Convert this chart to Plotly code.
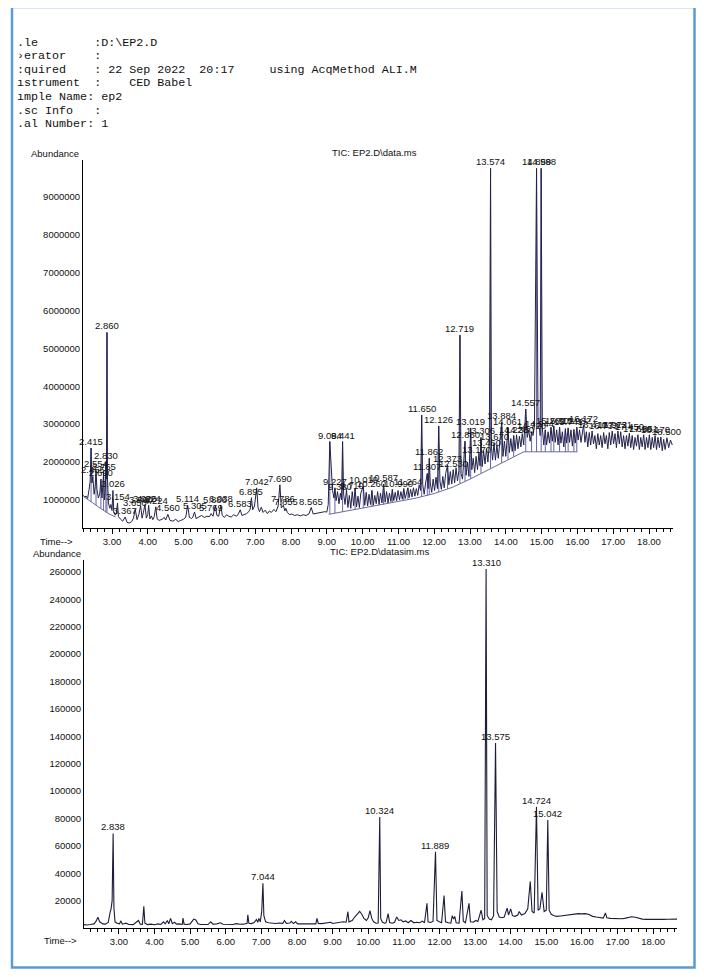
import plotly.graph_objects as go

# page body keeps its default 8px margin, so the figure is 16px smaller than the window
W, H = 688, 961
OFF = 8

# ---------------- header text (scan is cropped on the left) ----------------
header_lines = [
    ".le        :D:\\EP2.D",
    "›erator    :",
    ":quired    : 22 Sep 2022  20:17     using AcqMethod ALI.M",
    "ıstrument  :    CED Babel",
    "ımple Name: ep2",
    ".sc Info   :",
    ".al Number: 1",
]

# ---------------- TIC: EP2.D\data.ms (abundance in millions) ----------------
top_time = [
    2.190, 2.240, 2.280, 2.320, 2.360, 2.390, 2.415, 2.440, 2.465, 2.500,
    2.530, 2.554, 2.580, 2.620, 2.660, 2.690, 2.720, 2.745, 2.765, 2.790,
    2.810, 2.830, 2.845, 2.860, 2.875, 2.900, 2.940, 2.970, 3.000, 3.026,
    3.050, 3.090, 3.120, 3.154, 3.180, 3.230, 3.300, 3.367, 3.420, 3.480,
    3.550, 3.600, 3.650, 3.700, 3.750, 3.800, 3.840, 3.880, 3.920, 3.960,
    4.000, 4.024, 4.060, 4.100, 4.140, 4.180, 4.224, 4.260, 4.320, 4.400,
    4.460, 4.500, 4.560, 4.620, 4.700, 4.780, 4.850, 4.920, 5.000, 5.060,
    5.114, 5.160, 5.220, 5.260, 5.305, 5.350, 5.420, 5.500, 5.580, 5.650,
    5.720, 5.769, 5.820, 5.886, 5.930, 5.980, 6.038, 6.080, 6.140, 6.200,
    6.260, 6.330, 6.400, 6.480, 6.530, 6.583, 6.630, 6.700, 6.760, 6.820,
    6.860, 6.895, 6.930, 6.980, 7.042, 7.080, 7.120, 7.170, 7.220, 7.280,
    7.340, 7.400, 7.450, 7.520, 7.580, 7.640, 7.690, 7.730, 7.786, 7.830,
    7.855, 7.900, 7.960, 8.020, 8.100, 8.180, 8.260, 8.340, 8.420, 8.500,
    8.565, 8.620, 8.700, 8.780, 8.860, 8.940, 9.000, 9.040, 9.084, 9.120,
    9.160, 9.200, 9.227, 9.260, 9.300, 9.340, 9.380, 9.410, 9.441, 9.470,
    9.510, 9.550, 9.590, 9.630, 9.670, 9.710, 9.750, 9.790, 9.830, 9.870,
    9.910, 9.950, 10.019, 10.060, 10.100, 10.140, 10.180, 10.220, 10.260, 10.300,
    10.340, 10.380, 10.420, 10.460, 10.500, 10.540, 10.587, 10.630, 10.670, 10.710,
    10.750, 10.790, 10.830, 10.870, 10.910, 10.950, 10.990, 11.030, 11.070, 11.110,
    11.150, 11.190, 11.230, 11.264, 11.300, 11.340, 11.380, 11.420, 11.460, 11.500,
    11.540, 11.580, 11.620, 11.650, 11.680, 11.720, 11.760, 11.807, 11.830, 11.862,
    11.890, 11.930, 11.970, 12.010, 12.050, 12.090, 12.126, 12.160, 12.200, 12.240,
    12.280, 12.320, 12.373, 12.410, 12.450, 12.490, 12.530, 12.570, 12.610, 12.650,
    12.690, 12.719, 12.750, 12.790, 12.820, 12.860, 12.890, 12.930, 12.970, 13.019,
    13.050, 13.090, 13.130, 13.170, 13.210, 13.250, 13.280, 13.306, 13.340, 13.380,
    13.420, 13.460, 13.500, 13.540, 13.574, 13.600, 13.630, 13.670, 13.710, 13.750,
    13.790, 13.830, 13.884, 13.920, 13.960, 14.000, 14.061, 14.100, 14.140, 14.180,
    14.220, 14.260, 14.300, 14.340, 14.380, 14.420, 14.460, 14.500, 14.557, 14.600,
    14.640, 14.680, 14.720, 14.760, 14.800, 14.859, 14.900, 14.944, 14.960, 14.988,
    15.020, 15.060, 15.102, 15.140, 15.180, 15.220, 15.262, 15.300, 15.341, 15.380,
    15.420, 15.460, 15.502, 15.540, 15.580, 15.620, 15.664, 15.700, 15.741, 15.780,
    15.820, 15.860, 15.902, 15.940, 15.982, 16.020, 16.060, 16.100, 16.140, 16.172,
    16.210, 16.250, 16.290, 16.331, 16.370, 16.410, 16.450, 16.490, 16.530, 16.570,
    16.610, 16.650, 16.690, 16.733, 16.770, 16.810, 16.850, 16.890, 16.930, 16.972,
    17.010, 17.050, 17.090, 17.131, 17.170, 17.210, 17.250, 17.290, 17.330, 17.370,
    17.410, 17.450, 17.490, 17.530, 17.570, 17.610, 17.650, 17.690, 17.730, 17.770,
    17.810, 17.851, 17.890, 17.930, 17.970, 18.010, 18.050, 18.090, 18.130, 18.170,
    18.210, 18.250, 18.290, 18.331, 18.370, 18.410, 18.450, 18.500, 18.550, 18.600,
    18.650,
]
top_abund_m = [
    1.12, 1.08, 1.10, 1.04, 1.28, 1.50, 2.37, 1.45, 1.62, 1.15,
    1.35, 1.78, 1.28, 1.05, 1.18, 1.55, 1.05, 1.35, 1.72, 1.00,
    1.20, 2.00, 1.55, 5.42, 1.55, 0.92, 0.78, 0.88, 0.72, 1.25,
    0.68, 0.60, 0.64, 0.92, 0.56, 0.50, 0.44, 0.55, 0.41, 0.39,
    0.43, 0.52, 0.75, 0.48, 0.62, 0.85, 0.52, 0.68, 0.88, 0.52,
    0.62, 0.86, 0.50, 0.58, 0.48, 0.56, 0.82, 0.50, 0.46, 0.49,
    0.54, 0.47, 0.62, 0.46, 0.44, 0.49, 0.43, 0.46, 0.49, 0.55,
    0.86, 0.54, 0.51, 0.55, 0.68, 0.51, 0.55, 0.59, 0.54, 0.57,
    0.56, 0.64, 0.57, 0.85, 0.59, 0.57, 0.86, 0.59, 0.54, 0.61,
    0.57, 0.55, 0.61, 0.57, 0.63, 0.74, 0.59, 0.61, 0.64, 0.69,
    0.76, 1.06, 0.74, 0.84, 1.32, 0.79, 0.69, 0.81, 0.67, 0.73,
    0.64, 0.71, 0.67, 0.75, 0.69, 0.84, 1.40, 0.79, 0.86, 0.71,
    0.78, 0.67, 0.61, 0.63, 0.59, 0.61, 0.58, 0.61, 0.59, 0.63,
    0.80, 0.63, 0.65, 0.66, 0.67, 0.69, 0.68, 0.88, 2.54, 1.75,
    1.25, 1.05, 1.32, 0.98, 1.22, 0.90, 1.18, 1.00, 2.54, 1.15,
    0.88, 1.28, 0.80, 1.12, 0.78, 1.22, 0.85, 1.30, 0.82, 1.10,
    0.80, 1.18, 1.36, 0.86, 1.20, 0.84, 1.15, 0.88, 1.25, 0.86,
    1.12, 0.90, 1.22, 0.88, 1.18, 0.92, 1.42, 0.94, 1.22, 0.92,
    1.18, 0.96, 1.28, 0.98, 1.20, 0.98, 1.25, 1.00, 1.22, 1.02,
    1.30, 1.04, 1.25, 1.32, 1.06, 1.28, 1.08, 1.32, 1.10, 1.30,
    1.12, 1.40, 1.25, 3.24, 1.40, 1.15, 1.45, 1.70, 1.30, 2.10,
    1.45, 1.20, 1.55, 1.25, 1.60, 1.30, 2.95, 1.50, 1.28, 1.62,
    1.32, 1.70, 1.92, 1.40, 1.75, 1.42, 1.80, 1.45, 1.85, 1.50,
    1.78, 5.35, 1.70, 1.55, 1.95, 2.55, 1.65, 2.00, 1.62, 2.90,
    1.80, 2.10, 1.72, 2.15, 1.80, 2.25, 1.90, 2.65, 1.88, 2.30,
    1.95, 2.35, 2.00, 2.50, 9.75, 2.40, 2.05, 2.50, 2.05, 2.45,
    2.10, 2.55, 3.05, 2.15, 2.55, 2.15, 2.90, 2.25, 2.62, 2.28,
    2.70, 2.30, 2.72, 2.35, 2.68, 2.40, 2.75, 2.45, 3.40, 2.65,
    2.85, 2.55, 2.80, 2.70, 2.95, 9.75, 2.95, 2.85, 2.70, 9.75,
    2.90, 2.45, 2.85, 2.45, 2.80, 2.50, 2.92, 2.55, 2.95, 2.52,
    2.85, 2.45, 2.92, 2.50, 2.80, 2.40, 2.88, 2.50, 2.90, 2.52,
    2.85, 2.42, 2.86, 2.50, 2.92, 2.58, 2.85, 2.52, 2.80, 2.98,
    2.52, 2.80, 2.40, 2.78, 2.45, 2.82, 2.48, 2.70, 2.35, 2.75,
    2.45, 2.70, 2.38, 2.78, 2.48, 2.70, 2.35, 2.78, 2.45, 2.82,
    2.48, 2.75, 2.38, 2.82, 2.48, 2.80, 2.40, 2.70, 2.35, 2.70,
    2.42, 2.76, 2.38, 2.70, 2.33, 2.65, 2.42, 2.72, 2.33, 2.65,
    2.40, 2.72, 2.33, 2.65, 2.38, 2.72, 2.33, 2.65, 2.38, 2.70,
    2.33, 2.65, 2.38, 2.66, 2.30, 2.60, 2.33, 2.64, 2.38, 2.58,
    2.45,
]

# integration baselines drawn by the data system (millions)
base_early_time = [2.22, 2.88, 3.10]
base_early_abund_m = [1.08, 0.65, 0.55]
base_late_time = [9.05, 9.5, 10.0, 10.5, 11.0, 11.5, 12.0, 12.5, 13.0, 13.5, 14.0, 14.5, 16.0]
base_late_abund_m = [0.62, 0.70, 0.78, 0.87, 0.96, 1.05, 1.17, 1.33, 1.55, 1.80, 2.03, 2.27, 2.27]

# peak drop lines: time and baseline value (millions)
drop_time = [2.415, 2.554, 2.690, 2.765, 2.830, 2.860, 9.084, 9.227, 9.441, 9.790,
             10.019, 10.260, 10.587, 10.830, 11.150, 11.264, 11.650, 11.807, 11.862,
             12.126, 12.373, 12.719, 12.860, 13.019, 13.306, 13.574, 13.884, 14.061,
             14.220, 14.557, 14.720, 14.859, 14.988, 15.102, 15.262, 15.341, 15.502,
             15.664, 15.741, 15.902, 15.982]
drop_base_m = [0.95, 0.86, 0.77, 0.72, 0.68, 0.66, 0.63, 0.65, 0.69, 0.75,
               0.78, 0.83, 0.88, 0.93, 0.99, 1.01, 1.08, 1.11, 1.13,
               1.21, 1.29, 1.42, 1.49, 1.56, 1.70, 1.83, 1.98, 2.06,
               2.14, 2.27, 2.27, 2.27, 2.27, 2.27, 2.27, 2.27, 2.27,
               2.27, 2.27, 2.27, 2.27]

top_peak_labels = [
    2.415, 2.465, 2.554, 2.690, 2.765, 2.830, 2.860, 3.026, 3.154, 3.367,
    3.650, 3.800, 3.920, 4.024, 4.224, 4.560, 5.114, 5.305, 5.769, 5.886,
    6.038, 6.583, 6.895, 7.042, 7.690, 7.786, 7.855, 8.565, 9.084, 9.227,
    9.380, 9.441, 9.710, 10.019, 10.260, 10.587, 10.990, 11.264, 11.650, 11.807,
    11.862, 12.126, 12.373, 12.530, 12.719, 12.860, 13.019, 13.170, 13.306, 13.460,
    13.574, 13.670, 13.884, 14.061, 14.220, 14.380, 14.557, 14.720, 14.859, 14.944,
    14.988, 15.262, 15.502, 15.741, 15.982, 16.172, 16.410, 16.733, 16.972, 17.131,
    17.450, 17.690, 17.851, 18.170, 18.500,
]

# ---------------- TIC: EP2.D\datasim.ms ----------------
sim_time = [
    2.02, 2.10, 2.20, 2.30, 2.36, 2.41, 2.46, 2.55, 2.62, 2.70,
    2.75, 2.78, 2.81, 2.838, 2.86, 2.89, 2.95, 3.02, 3.05, 3.10,
    3.20, 3.28, 3.40, 3.50, 3.55, 3.60, 3.66, 3.70, 3.73, 3.80,
    3.90, 4.00, 4.10, 4.18, 4.25, 4.30, 4.36, 4.40, 4.45, 4.50,
    4.56, 4.62, 4.70, 4.78, 4.80, 4.83, 4.92, 5.00, 5.06, 5.10,
    5.16, 5.22, 5.30, 5.40, 5.50, 5.58, 5.64, 5.75, 5.85, 5.92,
    6.00, 6.10, 6.20, 6.30, 6.40, 6.50, 6.60, 6.62, 6.65, 6.72,
    6.80, 6.86, 6.90, 6.93, 6.97, 7.01, 7.044, 7.07, 7.12, 7.20,
    7.30, 7.40, 7.50, 7.60, 7.65, 7.70, 7.80, 7.84, 7.90, 7.96,
    8.02, 8.15, 8.30, 8.45, 8.53, 8.56, 8.60, 8.70, 8.80, 8.90,
    8.95, 9.00, 9.10, 9.20, 9.30, 9.38, 9.43, 9.46, 9.55, 9.62,
    9.70, 9.76, 9.82, 9.88, 9.95, 10.00, 10.05, 10.10, 10.15, 10.22,
    10.28, 10.324, 10.35, 10.40, 10.46, 10.50, 10.56, 10.60, 10.68, 10.74,
    10.80, 10.86, 10.92, 10.98, 11.05, 11.12, 11.20, 11.28, 11.36, 11.45,
    11.52, 11.58, 11.65, 11.68, 11.75, 11.82, 11.889, 11.93, 12.00, 12.06,
    12.13, 12.17, 12.25, 12.32, 12.36, 12.40, 12.43, 12.47, 12.55, 12.63,
    12.67, 12.73, 12.83, 12.87, 12.95, 13.02, 13.08, 13.17, 13.22, 13.27,
    13.310, 13.34, 13.40, 13.46, 13.52, 13.575, 13.62, 13.68, 13.75, 13.82,
    13.90, 13.94, 14.00, 14.05, 14.12, 14.20, 14.24, 14.30, 14.40, 14.48,
    14.55, 14.60, 14.66, 14.724, 14.77, 14.82, 14.88, 14.94, 15.00, 15.042,
    15.08, 15.14, 15.22, 15.30, 15.40, 15.50, 15.60, 15.70, 15.80, 15.90,
    16.00, 16.10, 16.20, 16.30, 16.40, 16.50, 16.60, 16.66, 16.70, 16.80,
    16.90, 17.00, 17.10, 17.20, 17.30, 17.40, 17.50, 17.60, 17.70, 17.80,
    17.90, 18.00, 18.10, 18.20, 18.30, 18.40, 18.50, 18.60, 18.67,
]
sim_abund = [
    2500, 2200, 2500, 3000, 5000, 7800, 4500, 3000, 2800, 4000,
    11000, 14000, 20000, 69000, 15000, 4500, 3500, 3000, 5200, 2800,
    3500, 2600, 2500, 4200, 5500, 2800, 2600, 15800, 3500, 2500,
    2800, 2400, 3000, 2600, 4500, 3000, 5500, 3000, 7000, 3200,
    4200, 2800, 3000, 2600, 7300, 2800, 2600, 3000, 5500, 6500,
    5800, 3000, 2500, 2700, 2500, 4500, 2800, 3000, 3800, 2700,
    2600, 2800, 2500, 3200, 2700, 2800, 3500, 9700, 3500, 3200,
    4000, 6200, 4200, 7000, 4500, 12000, 32600, 9000, 4500, 3800,
    3500, 3300, 3600, 3400, 5500, 3400, 3600, 4800, 3200, 4500,
    3000, 3100, 2900, 3200, 3000, 7000, 3300, 3200, 3400, 3700,
    4200, 3300, 3800, 4000, 4500, 4200, 11900, 4500, 5500, 8000,
    10500, 12200, 10000, 7000, 5500, 7500, 12700, 7000, 4500, 3500,
    3600, 81000, 7000, 4200, 3500, 3800, 10500, 4000, 3500, 4200,
    8000, 5500, 6000, 4500, 5200, 3800, 5500, 3800, 4200, 3800,
    5000, 3800, 18000, 4500, 4000, 4800, 55700, 5500, 4500, 3800,
    23700, 4500, 3800, 3500, 9000, 6500, 8500, 3800, 3500, 27000,
    5000, 3800, 18000, 4500, 4200, 5500, 4800, 13000, 6000, 7000,
    262000, 9000, 6500, 6000, 9000, 135000, 12000, 8000, 7500, 8000,
    14500, 9500, 14000, 9000, 8500, 9500, 12000, 9500, 10500, 14000,
    34000, 12000, 11000, 88500, 13000, 14000, 26000, 12000, 13000, 78800,
    13000, 10000, 9000, 8500, 8800, 9200, 9500, 10000, 10200, 10500,
    10300, 10500, 9800, 8500, 8000, 7500, 7200, 11000, 7500, 7000,
    6800, 6500, 6800, 7000, 7500, 8200, 7800, 7000, 6500, 6300,
    6200, 6200, 6300, 6200, 6300, 6400, 6500, 6500, 6500,
]
sim_peak_labels = [2.838, 7.044, 10.324, 11.889, 13.310, 13.575, 14.724, 15.042]

top_ticks = [1000000, 2000000, 3000000, 4000000, 5000000, 6000000, 7000000, 8000000, 9000000]
sim_ticks = [20000, 40000, 60000, 80000, 100000, 120000, 140000, 160000, 180000,
             200000, 220000, 240000, 260000]
time_ticks = [3, 4, 5, 6, 7, 8, 9, 10, 11, 12, 13, 14, 15, 16, 17, 18]


# ---------------- figure ----------------
def px(x):
    return (x - OFF) / W


def py(y):
    return 1 - (y - OFF) / H


SANS = "Arial, Liberation Sans, sans-serif"
M = 1e6
top_lookup = dict(zip(top_time, top_abund_m))
sim_lookup = dict(zip(sim_time, sim_abund))

fig = go.Figure()

dx, dy = [], []
for t, b in zip(drop_time, drop_base_m):
    dx += [t, t, None]
    dy += [top_lookup[t] * M, b * M, None]
fig.add_trace(go.Scatter(x=dx, y=dy, mode="lines", line=dict(color="#6464a8", width=1),
                         xaxis="x", yaxis="y", hoverinfo="skip", showlegend=False))
fig.add_trace(go.Scatter(x=base_early_time, y=[v * M for v in base_early_abund_m], mode="lines",
                         line=dict(color="#6a6a9c", width=1), xaxis="x", yaxis="y",
                         hoverinfo="skip", showlegend=False))
fig.add_trace(go.Scatter(x=base_late_time, y=[v * M for v in base_late_abund_m], mode="lines",
                         line=dict(color="#6a6a9c", width=1), xaxis="x", yaxis="y",
                         hoverinfo="skip", showlegend=False))
fig.add_trace(go.Scatter(x=top_time, y=[v * M for v in top_abund_m], mode="lines",
                         line=dict(color="#23234a", width=1), xaxis="x", yaxis="y",
                         showlegend=False))
fig.add_trace(go.Scatter(x=sim_time, y=sim_abund, mode="lines",
                         line=dict(color="#1c1c3c", width=1.1), xaxis="x2", yaxis="y2",
                         showlegend=False))

ann = []
for t in top_peak_labels:
    ann.append(dict(x=t, y=top_lookup[t] * M, xref="x", yref="y", text=f"{t:.3f}",
                    showarrow=False, yanchor="bottom", xanchor="center", borderpad=0,
                    font=dict(family=SANS, size=9.5, color="#111")))
for t in sim_peak_labels:
    ann.append(dict(x=t, y=sim_lookup[t], xref="x2", yref="y2", text=f"{t:.3f}",
                    showarrow=False, yanchor="bottom", xanchor="center", borderpad=0,
                    font=dict(family=SANS, size=9.5, color="#111")))

header_y = [43, 56, 70, 83, 97, 111, 124]
for line, yy in zip(header_lines, header_y):
    ann.append(dict(x=px(15), y=py(yy), xref="paper", yref="paper",
                    text=line.replace(" ", "\u00a0"), showarrow=False,
                    xanchor="left", yanchor="middle",
                    font=dict(family="Liberation Mono, monospace", size=11.7, color="#111")))


def lab(text, x, y, xa):
    ann.append(dict(x=px(x), y=py(y), xref="paper", yref="paper", text=text, showarrow=False,
                    xanchor=xa, yanchor="middle", font=dict(family=SANS, size=9.5, color="#111")))


lab("Abundance", 81, 153, "right")
lab("TIC: EP2.D\\data.ms", 375, 152, "center")
lab("Time-->", 38, 541, "left")
lab("Abundance", 83, 553, "right")
lab("TIC: EP2.D\\datasim.ms", 379, 551, "center")
lab("Time-->", 42, 940, "left")

axis_common = dict(showline=True, linecolor="black", linewidth=1, showgrid=False,
                   zeroline=False, tickfont=dict(family=SANS, size=9.5, color="#111"),
                   fixedrange=True)
xcommon = dict(axis_common, tickmode="array", tickvals=time_ticks,
               ticktext=[f"{v:.2f}" for v in time_ticks],
               ticks="outside", ticklen=5, tickcolor="black", tickwidth=1,
               minor=dict(dtick=0.2, tick0=2.0, ticks="outside", ticklen=3,
                          tickcolor="black", tickwidth=1, showgrid=False))

fig.update_layout(
    width=W, height=H, margin=dict(l=0, r=0, t=0, b=0),
    paper_bgcolor="white", plot_bgcolor="white", showlegend=False,
    xaxis=dict(xcommon, domain=[px(83), px(673)], range=[2.19, 18.67], anchor="y"),
    yaxis=dict(axis_common, domain=[py(528), py(160)], range=[260000, 9970000], anchor="x",
               tickmode="array", tickvals=top_ticks, ticktext=[str(v) for v in top_ticks],
               ticks=""),
    xaxis2=dict(xcommon, domain=[px(84), px(677)], range=[2.02, 18.67], anchor="y2"),
    yaxis2=dict(axis_common, domain=[py(928), py(560)], range=[0, 268600], anchor="x2",
                tickmode="array", tickvals=sim_ticks, ticktext=[str(v) for v in sim_ticks],
                ticks=""),
    annotations=ann,
    shapes=[dict(type="rect", xref="paper", yref="paper", x0=px(12), x1=px(694.5),
                 y0=py(967.5), y1=py(7), line=dict(color="#5b9bd5", width=2.5))],
)

fig.write_html("out.html")
